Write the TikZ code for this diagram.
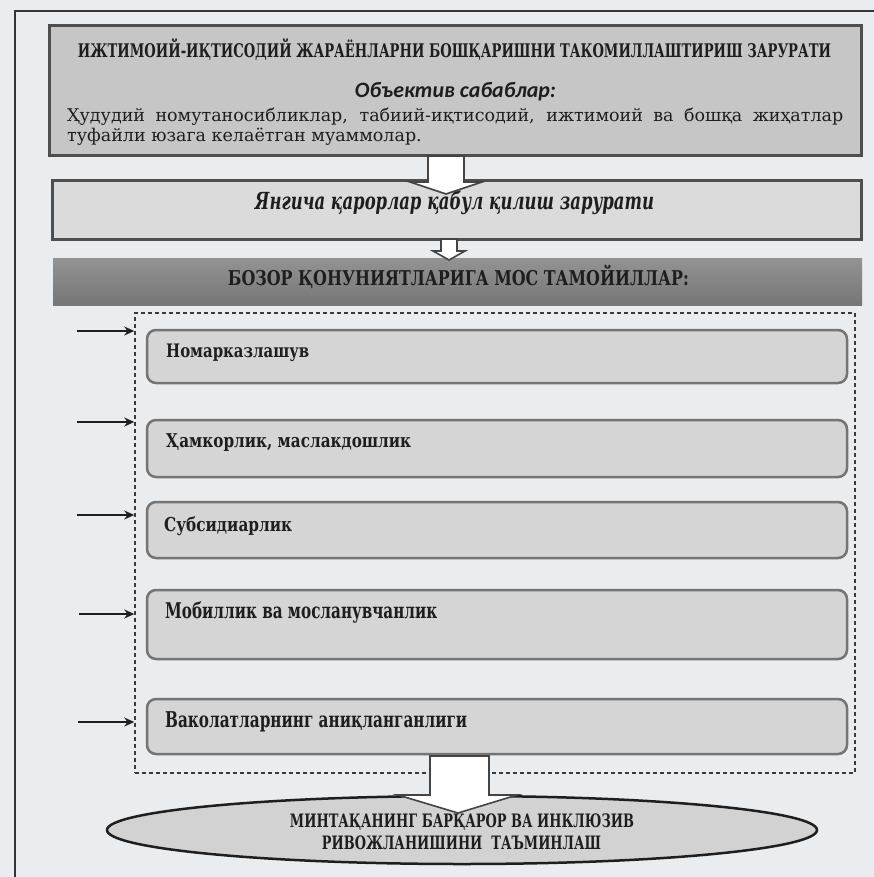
\documentclass[tikz,border=0pt]{standalone}
\usepackage{fontspec}
\setmainfont{DejaVu Serif}
\newfontfamily\condserif[FakeStretch=0.78]{DejaVu Serif}
\newfontfamily\narrowserif[FakeStretch=0.7]{DejaVu Serif}
\newfontfamily\itemserif[FakeStretch=0.8]{DejaVu Serif}
\newfontfamily\calfont{Carlito}
\usetikzlibrary{shapes.geometric,arrows.meta}
\definecolor{bg}{HTML}{E9EDF0}
\definecolor{boxA}{HTML}{C6C6C6}
\definecolor{boxB}{HTML}{DBDBDB}
\definecolor{edge}{HTML}{4E4E4E}
\definecolor{itemfill}{HTML}{D5D5D5}
\definecolor{itemedge}{HTML}{747474}
\definecolor{hdtop}{HTML}{939393}
\definecolor{hdbot}{HTML}{767676}
\definecolor{ink}{HTML}{1E1E1E}
\definecolor{dashc}{HTML}{3A3A3A}
\definecolor{arrc}{HTML}{444444}
\definecolor{ellfill}{HTML}{D2D2D2}
\newcommand\fitw[2]{\resizebox{#1}{!}{#2}}
\begin{document}
\begin{tikzpicture}[x=1pt,y=-1pt,
  bigbox/.style={draw=edge, line width=3pt, inner sep=0pt},
  hdbox/.style={top color=hdtop, bottom color=hdbot, inner sep=0pt},
  itembox/.style={draw=itemedge, fill=itemfill, line width=2.5pt, rounded corners=9pt, minimum width=700pt, inner sep=0pt},
  contbox/.style={draw=dashc, line width=1.5pt, dash pattern=on 4pt off 3pt, inner sep=0pt},
  blockarrow/.style={draw=arrc, fill=white, line width=1.6pt, line join=miter},
  sidearrow/.style={draw=ink, line width=2pt, -{Stealth[length=10pt,width=9pt]}},
  goal/.style={ellipse, draw=ink, fill=ellfill, line width=2.5pt, inner sep=0pt},
  lbl/.style={inner sep=0pt, text=ink},
  framel/.style={draw=ink!90, line width=2pt}]
\useasboundingbox (0,0) rectangle (874,877);
\fill[bg] (0,0) rectangle (874,877);
\draw[framel] (15,877) -- (15,11) -- (874,11);

% main boxes
\node[bigbox, fill=boxA, minimum width=812pt, minimum height=130pt] (b1) at (455,91) {};
\node[bigbox, fill=boxB, minimum width=809pt, minimum height=58pt] (b2) at (456.5,210) {};
\node[hdbox, minimum width=809pt, minimum height=47pt] (b3) at (457.5,281.5) {};

% container and items
\node[contbox, minimum width=720pt, minimum height=460pt] (cont) at (495,543) {};
\node[itembox, minimum height=53pt] (i1) at (497,356.5) {};
\node[itembox, minimum height=57pt] (i2) at (497,448.5) {};
\node[itembox, minimum height=56pt] (i3) at (497,530) {};
\node[itembox, minimum height=69pt] (i4) at (497,624.5) {};
\node[itembox, minimum height=55pt] (i5) at (497,726.5) {};

% goal ellipse
\node[goal, minimum width=710pt, minimum height=68pt] (g) at (462,830) {};

% block arrows
\draw[blockarrow] (428,156) -- (464,156) -- (464,182) -- (482,182) -- (446,194) -- (410,182) -- (428,182) -- cycle;
\draw[blockarrow] (441,239) -- (457,239) -- (457,251) -- (465,251) -- (449,260) -- (433,251) -- (441,251) -- cycle;
\draw[blockarrow] (430,756) -- (489,756) -- (489,795) -- (517,795) -- (458,813) -- (398,795) -- (430,795) -- cycle;

% side arrows
\coordinate (s1) at (77,331);
\coordinate (s2) at (77,422);
\coordinate (s3) at (77,515);
\coordinate (s4) at (79,614);
\coordinate (s5) at (78,722);
\foreach \s in {s1,s2,s3,s4,s5} \draw[sidearrow] (\s) -- (\s -| cont.west);

% texts
\node[lbl] (t1) at (454.5,50) {\fitw{753pt}{\narrowserif\bfseries ИЖТИМОИЙ-ИҚТИСОДИЙ ЖАРАЁНЛАРНИ БОШҚАРИШНИ ТАКОМИЛЛАШТИРИШ ЗАРУРАТИ}};
\node[lbl] (t2) at (455.5,92) {\fitw{201pt}{\calfont\bfseries\itshape Объектив сабаблар:}};
\node[lbl, anchor=west] (t3) at (67,117) {\fontsize{17.5}{20}\selectfont\makebox[776pt][s]{Ҳудудий номутаносибликлар, табиий-иқтисодий, ижтимоий ва бошқа жиҳатлар}};
\node[lbl, anchor=west] (t4) at (67,137) {\fontsize{17.5}{20}\selectfont туфайли юзага келаётган муаммолар.};
\node[lbl] (t5) at (454.5,203) {\fitw{399pt}{\narrowserif\bfseries\itshape Янгича қарорлар қабул қилиш зарурати}};
\node[lbl] (t6) at (458.5,277) {\fitw{461pt}{\condserif\bfseries БОЗОР ҚОНУНИЯТЛАРИГА МОС ТАМОЙИЛЛАР:}};

\node[lbl, anchor=west] (n1) at (166,353) {\fitw{143pt}{\itemserif\bfseries Номарказлашув}};
\node[lbl, anchor=west] (n2) at (166,443) {\fitw{245pt}{\itemserif\bfseries Ҳамкорлик, маслакдошлик}};
\node[lbl, anchor=west] (n3) at (164,526) {\fitw{128pt}{\itemserif\bfseries Субсидиарлик}};
\node[lbl, anchor=west] (n4) at (165,612) {\fitw{272pt}{\narrowserif\bfseries Мобиллик ва мосланувчанлик}};
\node[lbl, anchor=west] (n5) at (165,722) {\fitw{302pt}{\narrowserif\bfseries Ваколатларнинг аниқланганлиги}};

\node[lbl] (e1) at (462,822) {\fitw{344pt}{\narrowserif\bfseries МИНТАҚАНИНГ БАРҚАРОР ВА ИНКЛЮЗИВ}};
\node[lbl] (e2) at (461.5,843) {\fitw{279pt}{\narrowserif\bfseries РИВОЖЛАНИШИНИ\ \ ТАЪМИНЛАШ}};
\end{tikzpicture}
\end{document}
